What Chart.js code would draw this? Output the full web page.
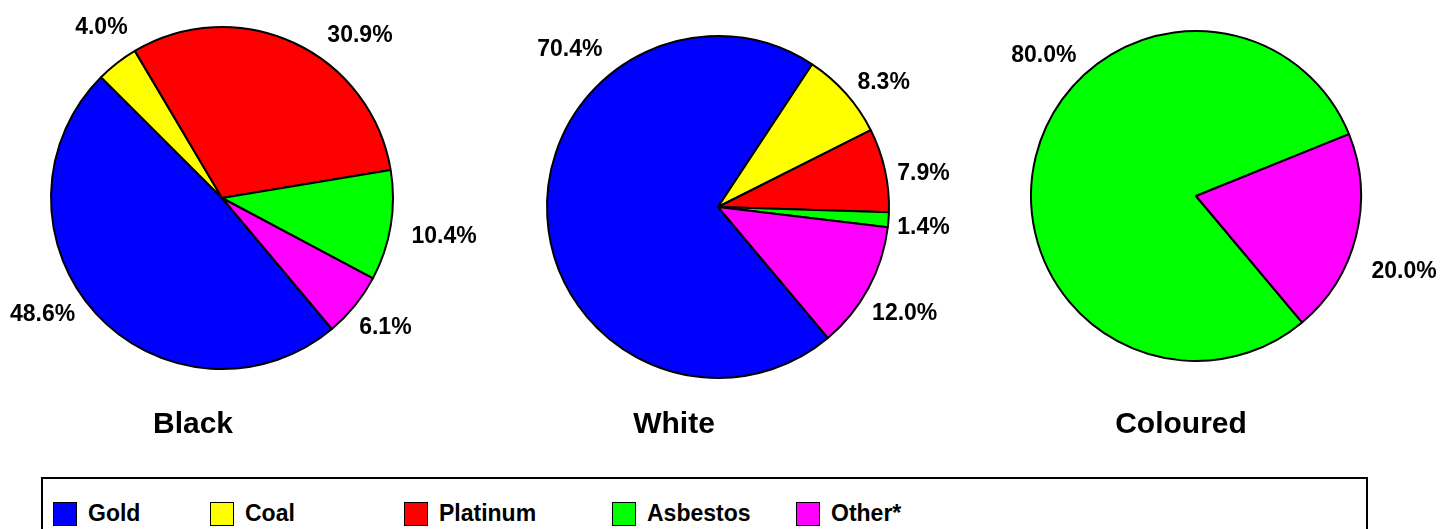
<!DOCTYPE html>
<html>
<head>
<meta charset="utf-8">
<script src="https://cdn.jsdelivr.net/npm/chart.js@4"></script>
<style>
  html, body { margin: 0; padding: 0; background: #fff; }
  #page { position: relative; width: 1455px; height: 529px; overflow: hidden; background: #fff;
          font-family: "Liberation Sans", Arial, sans-serif; }
  canvas.pie { position: absolute; }
  .title { position: absolute; width: 300px; text-align: center; font-weight: bold;
           font-size: 30px; line-height: 30px; color: #000; top: 408px; }
  #legend { position: absolute; left: 41px; top: 477px; width: 1327px; height: 80px;
            box-sizing: border-box; border: 2px solid #000; }
  #legend .items { position: absolute; left: 10px; top: 21px; display: flex; align-items: center; }
  #legend .item { display: flex; align-items: center; font-weight: bold; font-size: 23px; color: #000; }
  #legend .swatch { width: 24px; height: 24px; box-sizing: border-box; border: 1.5px solid #000; margin-right: 11px; }
</style>
</head>
<body>
<div id="page">
  <canvas id="pieBlack" class="pie" width="560" height="470" style="left:-58px;top:-37px"></canvas>
  <canvas id="pieWhite" class="pie" width="560" height="470" style="left:438px;top:-28px"></canvas>
  <canvas id="pieColoured" class="pie" width="560" height="470" style="left:916px;top:-39px"></canvas>
  <div class="title" style="left:43px">Black</div>
  <div class="title" style="left:524px">White</div>
  <div class="title" style="left:1031px">Coloured</div>
  <div id="legend"><div class="items" id="legendItems"></div></div>
</div>
<script>
// Mining sectors (slice order, clockwise)
const categories = ['Gold', 'Coal', 'Platinum', 'Asbestos', 'Other*'];
const sectorColors = ['#0000FF', '#FFFF00', '#FF0000', '#00FF00', '#FF00FF'];

// Share of each group's workers by sector, %
const blackShare    = [48.6, 4.0, 30.9, 10.4, 6.1];
const whiteShare    = [70.4, 8.3, 7.9, 1.4, 12.0];
const colouredShare = [0, 0, 0, 80.0, 20.0];

// Percentage labels drawn just outside each slice
const outsideLabels = {
  id: 'outsideLabels',
  afterDatasetsDraw(chart, args, opts) {
    const { ctx } = chart;
    const meta = chart.getDatasetMeta(0);
    const values = chart.data.datasets[0].data;
    const size = opts.size;
    ctx.save();
    ctx.font = 'bold ' + size + 'px "Liberation Sans", Arial, sans-serif';
    ctx.fillStyle = '#000';
    ctx.textAlign = 'center';
    ctx.textBaseline = 'alphabetic';
    meta.data.forEach((arc, i) => {
      const v = values[i];
      if (!v) return;
      const p = arc.getProps(['x', 'y', 'startAngle', 'endAngle', 'outerRadius'], true);
      const shift = opts.shift[i] || [0, 20];
      const a = (p.startAngle + p.endAngle) / 2 + shift[0] * Math.PI / 180;
      const ux = Math.cos(a), uy = Math.sin(a);
      const text = v.toFixed(1) + '%';
      const w = ctx.measureText(text).width;
      const h = size * 0.716;
      const ex = Math.abs(ux) > 1e-6 ? (w / 2) / Math.abs(ux) : Infinity;
      const ey = Math.abs(uy) > 1e-6 ? (h / 2) / Math.abs(uy) : Infinity;
      const d = p.outerRadius + shift[1] + Math.min(ex, ey);
      ctx.fillText(text, p.x + ux * d, p.y + uy * d + h / 2);
    });
    ctx.restore();
  }
};

function makePie(id, values, radius, shift) {
  return new Chart(document.getElementById(id), {
    type: 'pie',
    data: {
      labels: categories,
      datasets: [{
        data: values,
        backgroundColor: sectorColors,
        borderColor: '#000',
        borderWidth: (c) => (c.raw ? 2 : 0),
        radius: radius
      }]
    },
    options: {
      responsive: false,
      animation: false,
      events: [],
      rotation: 140,
      layout: { padding: 0 },
      plugins: {
        legend: { display: false },
        tooltip: { enabled: false },
        title: { display: false },
        outsideLabels: { size: 23, shift: shift }
      }
    },
    plugins: [outsideLabels]
  });
}

// [angle nudge in degrees, gap from rim in px] for each label
makePie('pieBlack', blackShare, 171,
  [[9.8, 27], [2.8, 29], [15, 33], [0, 21], [-1, 23]]);
makePie('pieWhite', whiteShare, 171,
  [[50.3, 35], [4.2, 24], [2.6, 11], [1, 9], [0.8, 26]]);
makePie('pieColoured', colouredShare, 165,
  [[0, 20], [0, 20], [0, 20], [29, 31], [5.5, 31]]);

// Shared legend
const itemWidths = [157, 194, 208, 184, 160];
const legendBox = document.getElementById('legendItems');
categories.forEach((name, i) => {
  const item = document.createElement('div');
  item.className = 'item';
  item.style.width = itemWidths[i] + 'px';
  const sw = document.createElement('span');
  sw.className = 'swatch';
  sw.style.background = sectorColors[i];
  const label = document.createElement('span');
  label.textContent = name;
  item.appendChild(sw);
  item.appendChild(label);
  legendBox.appendChild(item);
});
</script>
</body>
</html>
